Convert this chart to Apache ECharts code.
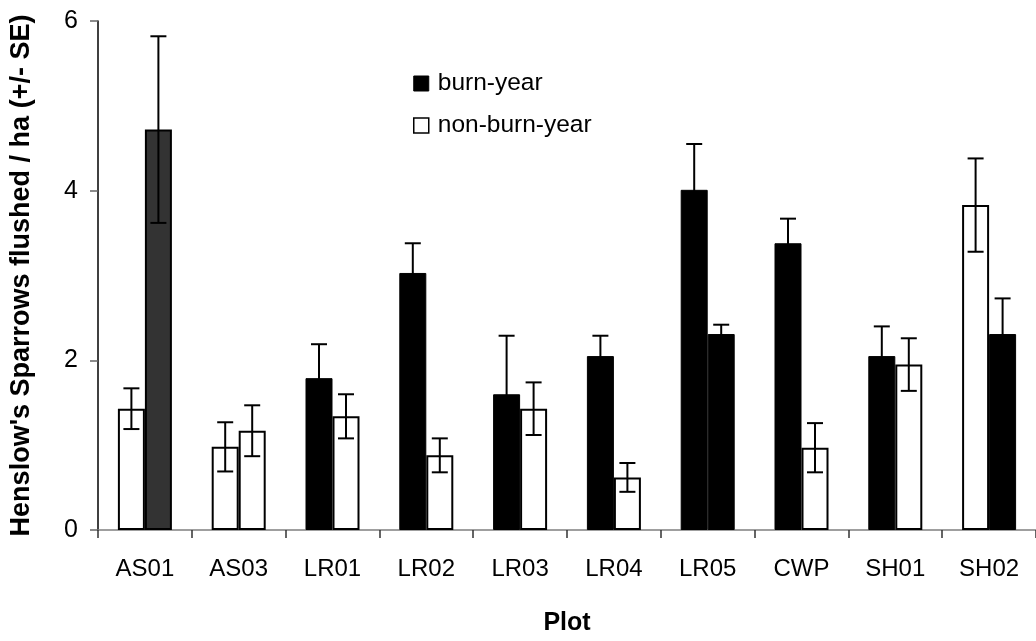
<!DOCTYPE html>
<html>
<head>
<meta charset="utf-8">
<script src="https://cdn.jsdelivr.net/npm/echarts@6/dist/echarts.min.js"></script>
<style>
html,body{margin:0;padding:0;background:#fff;}
#chart{width:1036px;height:641px;}
</style>
</head>
<body>
<div id="chart"></div>
<script>
// ---- data ----
var categories = ['AS01','AS03','LR01','LR02','LR03','LR04','LR05','CWP','SH01','SH02'];
// left bar of each pair
var leftValues = [1.43, 0.98, 1.79, 3.03, 1.60, 2.05, 4.01, 3.38, 2.05, 3.83];
var leftSE     = [0.24, 0.29, 0.40, 0.35, 0.69, 0.24, 0.54, 0.29, 0.35, 0.55];
var leftKind   = ['non-burn','non-burn','burn','burn','burn','burn','burn','burn','burn','non-burn'];
// right bar of each pair
var rightValues = [4.72, 1.17, 1.34, 0.88, 1.43, 0.62, 2.31, 0.97, 1.95, 2.31];
var rightSE     = [1.10, 0.30, 0.26, 0.20, 0.31, 0.17, 0.11, 0.29, 0.31, 0.42];
var rightKind   = ['burn-alt','non-burn','non-burn','non-burn','non-burn','non-burn','burn','non-burn','non-burn','burn'];
var legendNames = ['burn-year','non-burn-year'];
var yTitle = "Henslow's Sparrows flushed / ha (+/- SE)";
var xTitle = 'Plot';

// ---- styling ----
var FONT = '"Liberation Sans", Arial, sans-serif';
var BAR_W = 27;
function kindStyle(k){
  if (k === 'burn') return {color:'#000000', borderColor:'#000000', borderWidth:1};
  if (k === 'burn-alt') return {color:'#333333', borderColor:'#000000', borderWidth:2};
  return {color:'#ffffff', borderColor:'#000000', borderWidth:2};
}
function barData(vals, kinds){
  return vals.map(function(v,i){ return {value:v, itemStyle:kindStyle(kinds[i])}; });
}
function errData(vals, se){
  return vals.map(function(v,i){ return [i, v, se[i]]; });
}
function errRenderer(offset){
  return function(params, api){
    var i = api.value(0), v = api.value(1), s = api.value(2);
    var hi = api.coord([i, v + s]);
    var lo = api.coord([i, v - s]);
    var x = hi[0] + offset;
    var cap = 8;
    var st = {stroke:'#000', lineWidth:2};
    return {type:'group', children:[
      {type:'line', shape:{x1:x, y1:hi[1], x2:x, y2:lo[1]}, style:st},
      {type:'line', shape:{x1:x-cap, y1:hi[1], x2:x+cap, y2:hi[1]}, style:st},
      {type:'line', shape:{x1:x-cap, y1:lo[1], x2:x+cap, y2:lo[1]}, style:st}
    ]};
  };
}

var chart = echarts.init(document.getElementById('chart'), null, {renderer:'canvas'});
chart.setOption({
  animation:false,
  backgroundColor:'#ffffff',
  textStyle:{fontFamily:FONT},
  grid:{left:98, top:21, width:942, height:516, containLabel:false},
  legend:{
    orient:'vertical', left:408, top:66,
    itemWidth:15, itemHeight:15, itemGap:17,
    icon:'rect',
    textStyle:{fontFamily:FONT, fontSize:24.5, color:'#000', padding:[0,0,0,4]},
    data:[
      {name:legendNames[0], itemStyle:{color:'#000', borderColor:'#000', borderWidth:1}},
      {name:legendNames[1], itemStyle:{color:'#fff', borderColor:'#000', borderWidth:1.5}}
    ]
  },
  xAxis:{
    type:'category', data:categories, boundaryGap:true,
    name:xTitle, nameLocation:'middle', nameGap:81,
    nameTextStyle:{fontFamily:FONT, fontSize:25, fontWeight:'bold', color:'#000'},
    axisLine:{lineStyle:{color:'#808080', width:1.5}},
    axisTick:{show:true, length:8, inside:false, lineStyle:{color:'#333', width:1.5}},
    axisLabel:{fontFamily:FONT, fontSize:24, color:'#000', margin:27}
  },
  yAxis:{
    type:'value', min:0, max:6, interval:2,
    name:yTitle, nameLocation:'middle', nameRotate:90, nameGap:63,
    nameTextStyle:{fontFamily:FONT, fontSize:27, fontWeight:'bold', color:'#000'},
    axisLine:{show:true, lineStyle:{color:'#000', width:1.5}},
    axisTick:{show:true, length:8, lineStyle:{color:'#666', width:1.5}},
    axisLabel:{fontFamily:FONT, fontSize:25, color:'#000', margin:20},
    splitLine:{show:false}
  },
  series:[
    {name:legendNames[0], type:'bar', data:barData(leftValues, leftKind), barWidth:BAR_W, barGap:'0%', z:2},
    {name:legendNames[1], type:'bar', data:barData(rightValues, rightKind), barWidth:BAR_W, barGap:'0%', z:2},
    {type:'custom', renderItem:errRenderer(-BAR_W/2), data:errData(leftValues, leftSE), z:5, silent:true,
     encode:{x:0, y:1}},
    {type:'custom', renderItem:errRenderer(BAR_W/2), data:errData(rightValues, rightSE), z:5, silent:true,
     encode:{x:0, y:1}}
  ]
});
</script>
</body>
</html>
